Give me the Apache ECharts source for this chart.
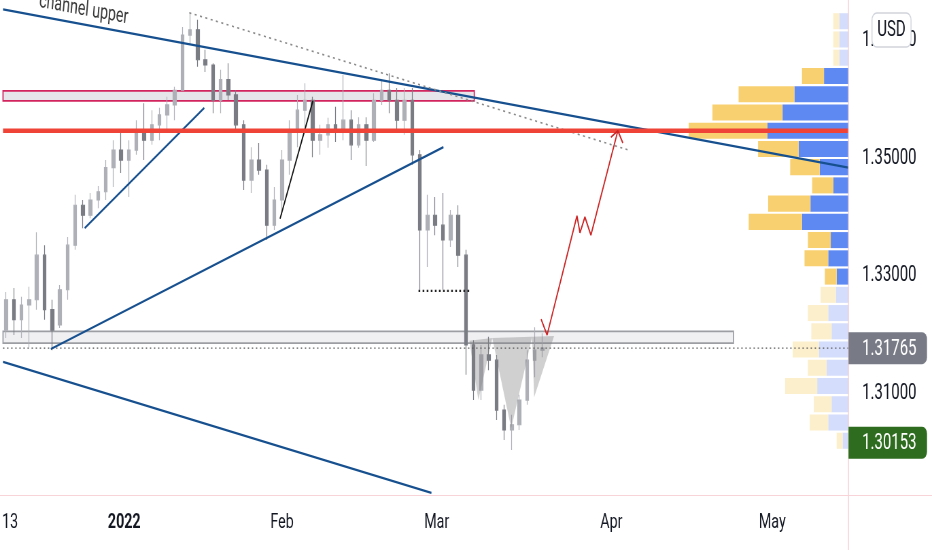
<!DOCTYPE html>
<html><head><meta charset="utf-8">
<script src="https://cdn.jsdelivr.net/npm/echarts@6/dist/echarts.min.js"></script>
<style>
html,body{margin:0;padding:0;overflow:hidden;background:#fff;width:932px;height:550px}
#wrap{width:932px;height:550px;overflow:hidden;position:relative}
#chart{width:1371px;height:550px;transform:scaleX(0.679796);transform-origin:0 0}
</style></head><body>
<div id="wrap"><div id="chart"></div></div>
<script>
// ---------------- data ----------------
// x = trading-day index from Dec 13 2021
const xTickPos = [0.5, 15.4, 36, 56.2, 79, 100];
const xTickLabels = ['13', '2022', 'Feb', 'Mar', 'Apr', 'May'];
const yTickValues = [1.31, 1.33, 1.35, 1.37];

const opens = [1.3207,1.3259,1.3225,1.3250,1.3259,1.3335,1.3242,1.3216,1.3276,1.3352,
1.3420,1.3403,1.3429,1.3443,1.3484,1.3514,1.3497,1.3514,1.3548,1.3531,
1.3557,1.3574,1.3591,1.3616,1.3710,1.3719,1.3668,1.3659,1.3599,1.3634,
1.3608,1.3557,1.3463,1.3497,1.3480,1.3386,1.3429,1.3497,1.3548,1.3582,
1.3599,1.3531,1.3540,1.3557,1.3548,1.3565,1.3523,1.3557,1.3531,1.3599,
1.3616,1.3599,1.3565,1.3599,1.3506,1.3378,1.3403,1.3386,1.3361,1.3403,
1.3335,1.3182,1.3105,1.3165,1.3156,1.3071,1.3037,1.3046,1.3088,1.3156,1.3173];
const closes = [1.3259,1.3225,1.3250,1.3259,1.3335,1.3242,1.3207,1.3276,1.3352,1.3420,
1.3403,1.3429,1.3443,1.3484,1.3514,1.3497,1.3514,1.3548,1.3531,1.3557,
1.3574,1.3591,1.3616,1.3710,1.3719,1.3668,1.3659,1.3599,1.3634,1.3608,
1.3557,1.3463,1.3497,1.3480,1.3386,1.3429,1.3497,1.3548,1.3582,1.3599,
1.3531,1.3540,1.3557,1.3548,1.3565,1.3523,1.3557,1.3531,1.3599,1.3616,
1.3599,1.3565,1.3599,1.3506,1.3378,1.3403,1.3386,1.3361,1.3403,1.3335,
1.3182,1.3105,1.3165,1.3156,1.3071,1.3037,1.3046,1.3088,1.3156,1.3173,1.31765];
const lows = [1.3194,1.3199,1.3194,1.3178,1.3242,1.3225,1.3173,1.3211,1.3259,1.3344,
1.3381,1.3398,1.3415,1.3429,1.3451,1.3475,1.3434,1.3506,1.3497,1.3523,
1.3531,1.3543,1.3565,1.3616,1.3693,1.3656,1.3647,1.3577,1.3577,1.3599,
1.3543,1.3446,1.3441,1.3472,1.3361,1.3378,1.3403,1.3472,1.3519,1.3553,
1.3502,1.3506,1.3518,1.3528,1.3531,1.3497,1.3518,1.3487,1.3528,1.3591,
1.3577,1.3543,1.3540,1.3489,1.3276,1.3315,1.3369,1.3276,1.3349,1.3315,
1.3131,1.3088,1.3088,1.3139,1.3054,1.3020,1.3003,1.3037,1.3080,1.3127,1.3161];
const highs = [1.3272,1.3279,1.3264,1.3281,1.3374,1.3352,1.3259,1.3284,1.3366,1.3438,
1.3429,1.3441,1.3453,1.3497,1.3531,1.3548,1.3531,1.3565,1.3594,1.3582,
1.3586,1.3605,1.3622,1.3724,1.3749,1.3736,1.3685,1.3662,1.3651,1.3662,
1.3616,1.3565,1.3519,1.3526,1.3489,1.3451,1.3514,1.3565,1.3608,1.3628,
1.3605,1.3557,1.3569,1.3588,1.3642,1.3582,1.3570,1.3570,1.3611,1.3634,
1.3645,1.3620,1.3620,1.3620,1.3514,1.3438,1.3434,1.3441,1.3412,1.3420,
1.3344,1.3190,1.3182,1.3196,1.3165,1.3080,1.3063,1.3097,1.3173,1.3212,1.3202];

// volume profile rows, top row first
const vpUp   = [1.1,1.1,1.1,2.9,6.4,7.8,9.6,5.9,3.4,1.8,4.5,5.5,2.1,2.4,1.4,1.5,2.4,2.0,3.5,2.6,3.7,2.0,2.4,0.7];
const vpDown = [0.7,0.7,0.7,2.6,6.6,8.3,9.3,4.8,3.5,2.5,5.0,6.3,2.7,2.8,1.4,1.8,2.4,2.4,3.1,2.2,3.8,2.1,2.2,0.7];
const vaFromRow = 3, vaToRow = 14;

// drawings (trading-day index, price)
const xMin = -0.42, xMax = 109.95;
const channelUpper = [[-0.42, 1.3754], [109.95, 1.3484]];
const channelLower = [[-0.42, 1.3153], [55.5, 1.2930]];
const risingTrend = [[5.82, 1.3175], [57.07, 1.3519]];
const shortTrend = [[10.24, 1.3381], [25.85, 1.3586]];
const blackTrend = [[35.74, 1.3397], [40.03, 1.3598]];
const peakDots = [[23.9, 1.3748], [81.27, 1.3514]];
const neckDots = [[53.82, 1.3274], [60.71, 1.3274]];
const redLevel = 1.3547;
const pinkZone = [-0.42, 61.1, 1.3598, 1.3615];
const supportZone = [-0.42, 94.93, 1.3185, 1.3205];
const redPath = [[69.82,1.3226],[70.6,1.3199],[74.5,1.3402],[74.89,1.3373],[75.54,1.3400],[76.32,1.3369],[79.84,1.3547]];
const arrowHead = [[78.93,1.3536],[79.84,1.3547],[80.49,1.3526]];
const triangles = [
  [[60.46,1.3189],[63.45,1.3194],[61.63,1.3088]],
  [[63.45,1.3194],[68.65,1.3196],[65.92,1.3040]],
  [[68.65,1.3196],[71.51,1.3197],[68.91,1.3093]]
];
const channelText = 'channel upper';
const channelTextAt = [10.11, 1.3753];
const extraPriceLabel = 1.30153;

// ---------------- chart ----------------
const S = 932 / 1371;
const FONT = 'Roboto, "Liberation Sans", sans-serif';
const candles = opens.map((o, i) => [i, o, closes[i], lows[i], highs[i]]);
const lastClose = closes[closes.length - 1];
const vpHigh = Math.max(...highs), vpLow = Math.min(...lows);
const rowH = (vpHigh - vpLow) / vpUp.length;
const gridRight = 1371 - 848.5 / S;

function seg(pts, color, width, type, z) {
  return { type: 'line', data: pts, symbol: 'none', silent: true, animation: false, z: z || 4,
    lineStyle: { color: color, width: width, type: type || 'solid' } };
}

const chart = echarts.init(document.getElementById('chart'));
chart.setOption({
  animation: false,
  backgroundColor: '#ffffff',
  textStyle: { fontFamily: FONT },
  grid: { left: 0, top: 0, right: gridRight, bottom: 54.5 },
  xAxis: [{
    type: 'value', min: xMin, max: xMax,
    axisLine: { show: false }, axisTick: { show: false }, splitLine: { show: false },
    axisLabel: {
      customValues: xTickPos, margin: 17, fontSize: 21, color: '#131722', fontFamily: FONT,
      formatter: function (v) {
        const k = xTickPos.findIndex(p => Math.abs(p - v) < 1e-6);
        if (k < 0) return '';
        return xTickLabels[k] === '2022' ? '{b|2022}' : xTickLabels[k];
      },
      rich: { b: { fontWeight: 'bold', fontSize: 21, color: '#131722', fontFamily: FONT } }
    }
  }, {
    type: 'value', min: 0, max: 100, inverse: true, show: false
  }],
  yAxis: {
    type: 'value', position: 'right', min: 1.29254, max: 1.37698, scale: true,
    axisLine: { show: false }, axisTick: { show: false }, splitLine: { show: false },
    axisLabel: { customValues: yTickValues, margin: 20, fontSize: 22, color: '#131722', fontFamily: FONT,
      formatter: v => v.toFixed(5) }
  },
  graphic: [
    { type: 'line', z: 50, shape: { x1: 848.5 / S, y1: 0, x2: 848.5 / S, y2: 550 }, style: { stroke: '#f8d3d8', lineWidth: 1.5 } },
    { type: 'line', z: 50, shape: { x1: 0, y1: 495.5, x2: 1371, y2: 495.5 }, style: { stroke: '#f8d3d8', lineWidth: 1.2 } },
    { type: 'rect', z: 60, shape: { x: 872 / S, y: 13, width: 39 / S, height: 34, r: 7 }, style: { fill: '#ffffff', stroke: '#d1d4dc', lineWidth: 1.4 } },
    { type: 'text', z: 61, x: 891.5 / S, y: 30, style: { text: 'USD', fill: '#131722', font: '22px ' + FONT, align: 'center', verticalAlign: 'middle' } }
  ],
  series: [
    // zones
    { type: 'line', data: [], silent: true, z: 1,
      markArea: { silent: true, data: [
        [{ coord: [pinkZone[0], pinkZone[3]], itemStyle: { color: 'rgba(196,192,206,0.42)', borderColor: '#d2245e', borderWidth: 1.8 } },
         { coord: [pinkZone[1], pinkZone[2]] }],
        [{ coord: [supportZone[0], supportZone[3]], itemStyle: { color: 'rgba(228,228,234,0.55)', borderColor: '#9c9ea4', borderWidth: 1.8 } },
         { coord: [supportZone[1], supportZone[2]] }]
      ] } },
    // volume profile
    { type: 'custom', xAxisIndex: 1, yAxisIndex: 0, z: 1, silent: true, clip: false,
      data: vpUp.map((u, k) => [k]),
      renderItem: function (params, api) {
        const k = api.value(0);
        const pTop = vpHigh - k * rowH, pBot = pTop - rowH;
        const a = api.coord([0, pTop]);
        const b = api.coord([vpUp[k], pBot]);
        const c = api.coord([vpUp[k] + vpDown[k], pBot]);
        const y0 = a[1] + 1, h = b[1] - a[1] - 2.2;
        const inVA = k >= vaFromRow && k <= vaToRow;
        return { type: 'group', children: [
          { type: 'rect', shape: { x: b[0], y: y0, width: a[0] - b[0], height: h }, style: { fill: inVA ? '#5f89f2' : '#d4ddfb' } },
          { type: 'rect', shape: { x: c[0], y: y0, width: b[0] - c[0], height: h }, style: { fill: inVA ? '#f8d070' : '#fcefcb' } }
        ] };
      } },
    // candles
    { type: 'candlestick', data: candles, encode: { x: 0, y: [1, 2, 3, 4] }, z: 2, barWidth: 5,
      itemStyle: { color: '#aeb0b7', color0: '#7a7c84', borderColor: '#aeb0b7', borderColor0: '#7a7c84', borderWidth: 1.2 } },
    // current price dotted line
    seg([[xMin, lastClose], [xMax, lastClose]], '#555555', 1.3, [2, 4], 3),
    // pattern triangles
    { type: 'custom', z: 3, silent: true, clip: false, data: triangles.map((t, k) => [k]),
      renderItem: function (params, api) {
        const t = triangles[api.value(0)];
        return { type: 'polygon', shape: { points: t.map(p => api.coord(p)) }, style: { fill: 'rgba(125,125,128,0.36)' } };
      } },
    seg(channelUpper, '#17508f', 2.3),
    seg(channelLower, '#17508f', 2.3),
    seg(risingTrend, '#17508f', 2.3),
    seg(shortTrend, '#17508f', 2.3),
    seg(blackTrend, '#111111', 1.8),
    seg(peakDots, '#8a8a8a', 1.6, [3, 5]),
    seg(neckDots, '#222222', 2.2, [2.5, 3.5]),
    seg([[xMin, redLevel], [xMax, redLevel]], '#ef4337', 4.5, 'solid', 5),
    seg(redPath, '#cc2424', 1.8, 'solid', 6),
    seg(arrowHead, '#cc2424', 1.8, 'solid', 6),
    // channel label text
    { type: 'custom', z: 7, silent: true, clip: false, data: [channelTextAt],
      renderItem: function (params, api) {
        const c1 = api.coord(channelUpper[0]), c2 = api.coord(channelUpper[1]);
        const rot = -Math.atan2(c2[1] - c1[1], c2[0] - c1[0]);
        const p = api.coord([api.value(0), api.value(1)]);
        return { type: 'text', x: p[0], y: p[1], rotation: rot,
          style: { text: channelText, fill: '#3a3a3a', font: '21px ' + FONT, align: 'center', verticalAlign: 'middle' } };
      } },
    // price labels on axis
    { type: 'custom', z: 70, silent: true, clip: false,
      data: [[0, lastClose, 0], [0, extraPriceLabel, 1]],
      renderItem: function (params, api) {
        const price = api.value(1);
        const y = api.coord([0, price])[1];
        const x = params.coordSys.x + params.coordSys.width;
        const fill = api.value(2) === 0 ? '#787b86' : '#2e6c1f';
        return { type: 'group', children: [
          { type: 'rect', shape: { x: x, y: y - 16, width: 927 / S - x, height: 32, r: [0, 7, 7, 0] }, style: { fill: fill } },
          { type: 'text', x: x + 20, y: y + 1, style: { text: price.toFixed(5), fill: '#ffffff', font: '22px ' + FONT, verticalAlign: 'middle' } }
        ] };
      } }
  ]
});
</script></body></html>
